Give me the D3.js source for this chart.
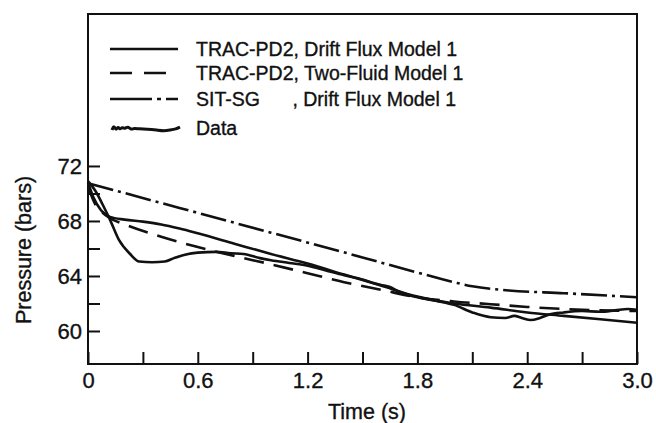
<!DOCTYPE html>
<html>
<head>
<meta charset="utf-8">
<script src="https://cdn.jsdelivr.net/npm/d3@7"></script>
<style>
  body { margin: 0; background: #fff; }
  svg { display: block; }
  text { font-family: "Liberation Sans", Arial, Helvetica, sans-serif; fill: #111; stroke: #111; stroke-width: 0.35px; }
</style>
</head>
<body>
<svg id="chart" width="656" height="423"></svg>
<script>
// time (s) / pressure (bars)
var driftFlux = [
    [0, 70.8], [0.03, 69.7], [0.07, 68.8], [0.12, 68.3], [0.2, 68.1], [0.3, 67.95],
    [0.4, 67.75], [0.5, 67.45], [0.6, 67.1], [0.8, 66.35], [1.0, 65.6], [1.2, 64.9],
    [1.4, 64.1], [1.6, 63.3], [1.8, 62.5], [2.0, 62.0], [2.2, 61.7], [2.4, 61.35],
    [2.6, 61.1], [2.8, 60.85], [3.0, 60.6]
];
var twoFluid = [
    [0, 70.5], [0.04, 69.2], [0.08, 68.6], [0.12, 68.2], [0.2, 67.75], [0.4, 66.85],
    [0.6, 66.1], [0.8, 65.45], [1.0, 64.85], [1.2, 64.2], [1.4, 63.55], [1.6, 63.0],
    [1.8, 62.45], [2.0, 62.15], [2.2, 61.95], [2.4, 61.75], [2.6, 61.6], [2.8, 61.5],
    [3.0, 61.45]
];
var sitSG = [
    [0, 70.75], [0.5, 68.95], [1.0, 67.15], [1.5, 65.35], [1.8, 64.25], [2.0, 63.55],
    [2.1, 63.25], [2.3, 62.95], [2.6, 62.75], [3.0, 62.45]
];
var data = [
    [0, 70.9], [0.04, 70.2], [0.08, 69.2], [0.12, 68.1], [0.17, 66.6], [0.23, 65.6],
    [0.28, 65.05], [0.35, 65.0], [0.42, 65.05], [0.47, 65.3], [0.53, 65.55], [0.6, 65.7],
    [0.7, 65.75], [0.78, 65.65], [0.85, 65.6], [0.94, 65.3], [1.0, 65.15], [1.1, 64.95],
    [1.2, 64.75], [1.3, 64.4], [1.4, 64.05], [1.5, 63.75], [1.57, 63.45], [1.6, 63.35],
    [1.65, 63.2], [1.7, 62.85], [1.8, 62.45], [1.9, 62.2], [2.0, 61.9], [2.1, 61.35],
    [2.2, 61.0], [2.28, 60.95], [2.33, 61.1], [2.37, 60.95], [2.42, 60.8], [2.47, 60.95],
    [2.52, 61.2], [2.6, 61.35], [2.7, 61.45], [2.8, 61.4], [2.88, 61.5], [2.95, 61.6],
    [3.0, 61.55]
];

var xTicks = [0, 0.3, 0.6, 0.9, 1.2, 1.5, 1.8, 2.1, 2.4, 2.7, 3.0];
var xLabels = [0, 0.6, 1.2, 1.8, 2.4, 3.0];
var yTicks = [60, 62, 64, 66, 68, 70, 72];
var yLabels = [60, 64, 68, 72];

var legendNames = [
    "TRAC-PD2, Drift Flux Model 1",
    "TRAC-PD2, Two-Fluid Model 1",
    "SIT-SG      , Drift Flux Model 1",
    "Data"
];
// little squiggle drawn next to "Data" in the key (offsets in px)
var dataKey = [[0, 2], [2, -3], [4, 3], [6, -2], [8, 2], [10, -1], [13, 1], [16, -2], [19, 2],
    [22, 0], [27, 1], [35, 1], [45, 2], [52, 3], [58, 2], [64, 1], [68, -1]];

var svg = d3.select("#chart");
var plotL = 88, plotR = 637, plotT = 14, plotB = 364;

var x = d3.scaleLinear().domain([0, 3.0]).range([plotL, plotR]);
var y = d3.scaleLinear().domain([57.6, 83.05]).range([plotB, plotT]);

// frame
svg.append("rect")
    .attr("x", plotL).attr("y", plotT)
    .attr("width", plotR - plotL).attr("height", plotB - plotT)
    .attr("fill", "none").attr("stroke", "#111").attr("stroke-width", 2);

var xAxis = d3.axisBottom(x)
    .tickValues(xTicks)
    .tickSize(-12)
    .tickPadding(8)
    .tickFormat(function (d) {
        if (xLabels.indexOf(d) < 0) return "";
        return d === 0 ? "0" : d.toFixed(1);
    });

var yAxis = d3.axisLeft(y)
    .tickValues(yTicks)
    .tickSize(-12)
    .tickPadding(6)
    .tickFormat(function (d) { return yLabels.indexOf(d) < 0 ? "" : d; });

var gx = svg.append("g").attr("transform", "translate(0," + plotB + ")").call(xAxis);
var gy = svg.append("g").attr("transform", "translate(" + plotL + ",0)").call(yAxis);

[gx, gy].forEach(function (g) {
    g.select(".domain").remove();
    g.selectAll(".tick line").attr("stroke", "#111").attr("stroke-width", 2);
    g.selectAll(".tick text")
        .style("font-family", "'Liberation Sans', Arial, sans-serif")
        .style("font-size", "22px")
        .attr("fill", "#111");
});

svg.append("text")
    .attr("x", 367).attr("y", 419)
    .attr("text-anchor", "middle")
    .style("font-size", "21.5px")
    .text("Time (s)");

svg.append("text")
    .attr("transform", "translate(31,250) rotate(-90)")
    .attr("text-anchor", "middle")
    .style("font-size", "21.5px")
    .text("Pressure (bars)");

var line = d3.line()
    .x(function (d) { return x(d[0]); })
    .y(function (d) { return y(d[1]); })
    .curve(d3.curveMonotoneX);

var series = [
    { values: driftFlux, dash: null, keyDash: null, width: 2.6 },
    { values: twoFluid, dash: "20,10", keyDash: "22,12", width: 2.6 },
    { values: sitSG, dash: "26,5,3,5", keyDash: "42,5,4,5", width: 2.6 },
    { values: data, dash: null, keyDash: null, width: 2.6 }
];

series.forEach(function (s) {
    svg.append("path")
        .datum(s.values)
        .attr("d", line)
        .attr("fill", "none")
        .attr("stroke", "#111")
        .attr("stroke-width", s.width)
        .attr("stroke-dasharray", s.dash);
});

// key
var keyY = [49, 73, 99, 128];
legendNames.forEach(function (name, i) {
    if (i < 3) {
        svg.append("line")
            .attr("x1", 110).attr("x2", 178)
            .attr("y1", keyY[i]).attr("y2", keyY[i])
            .attr("stroke", "#111").attr("stroke-width", 2.6)
            .attr("stroke-dasharray", series[i].keyDash);
    } else {
        svg.append("path")
            .datum(dataKey)
            .attr("d", d3.line()
                .x(function (d) { return 112 + d[0]; })
                .y(function (d) { return keyY[i] + d[1]; })
                .curve(d3.curveBasis))
            .attr("fill", "none")
            .attr("stroke", "#111")
            .attr("stroke-width", 3);
    }
    svg.append("text")
        .attr("x", 196).attr("y", keyY[i])
        .attr("dy", "0.35em")
        .style("font-size", "19.5px")
        .style("white-space", "pre")
        .attr("xml:space", "preserve")
        .text(name);
});
</script>
</body>
</html>
